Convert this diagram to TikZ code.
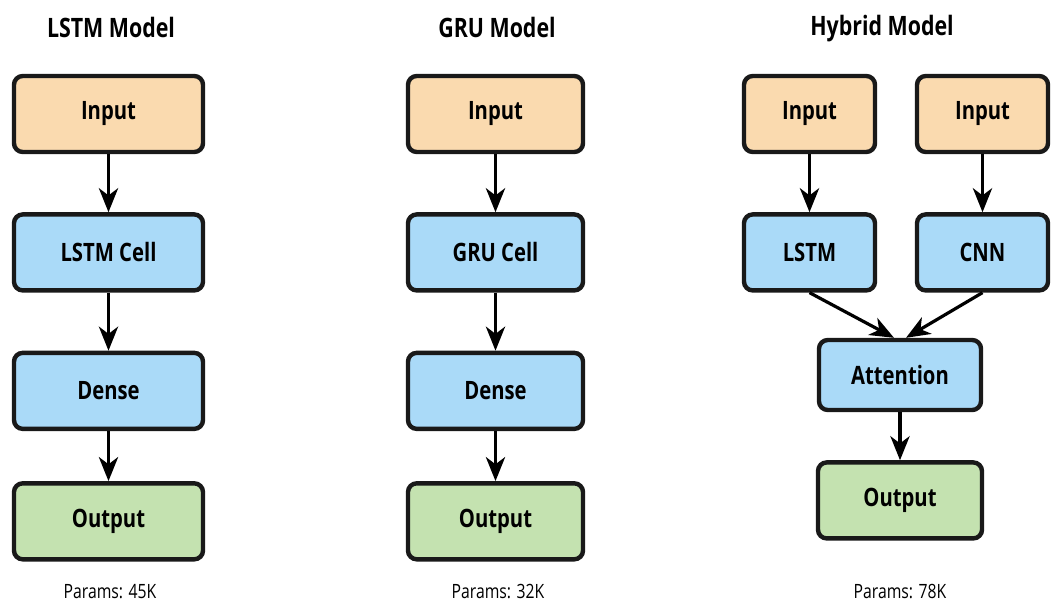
\documentclass[tikz,border=0pt]{standalone}
\usepackage{fontspec}
\setmainfont{Open Sans}[FakeStretch=0.8]
\usetikzlibrary{arrows.meta,positioning}

\definecolor{inpcol}{HTML}{FADAAF}
\definecolor{cellcol}{HTML}{AADAF8}
\definecolor{outcol}{HTML}{C4E2B0}

\begin{document}
\begin{tikzpicture}[x=0.025cm,y=-0.025cm,node distance=1.45cm,
	box/.style={draw=black!90,line width=1.1mm,rounded corners=2.2mm,minimum height=1.9cm,font=\fontsize{18}{22}\selectfont\bfseries},
	inbox/.style={box,fill=inpcol},
	cellbox/.style={box,fill=cellcol},
	outbox/.style={box,fill=outcol},
	heading/.style={font=\fontsize{19}{22}\selectfont\bfseries},
	note/.style={font=\fontsize{14}{17}\selectfont},
	arr/.style={-{Stealth[length=6mm,width=4.8mm,inset=1.8mm]},line width=0.8mm}]
\useasboundingbox (0,0) rectangle (1051,604);

% LSTM
\node [heading] (lt) at (111,27) {LSTM Model};
\node [inbox,minimum width=4.725cm] (li) at (108.5,114) {Input};
\node [cellbox,minimum width=4.725cm,below=of li] (lc) {LSTM Cell};
\node [cellbox,minimum width=4.725cm,below=of lc] (ld) {Dense};
\node [outbox,minimum width=4.725cm,below=1.25cm of ld] (lo) {Output};
\node [note] (lp) at (110,592) {Params: 45K};
\draw [arr] (li) -- (lc);
\draw [arr] (lc) -- (ld);
\draw [arr] (ld) -- (lo);

% GRU
\node [heading] (gt) at (497,27) {GRU Model};
\node [inbox,minimum width=4.375cm] (gi) at (495.5,114) {Input};
\node [cellbox,minimum width=4.375cm,below=of gi] (gc) {GRU Cell};
\node [cellbox,minimum width=4.375cm,below=of gc] (gd) {Dense};
\node [outbox,minimum width=4.375cm,below=1.25cm of gd] (go) {Output};
\node [note] (gp) at (498,592) {Params: 32K};
\draw [arr] (gi) -- (gc);
\draw [arr] (gc) -- (gd);
\draw [arr] (gd) -- (go);

% Hybrid
\node [heading] (ht) at (882,29) {Hybrid Model};
\node [inbox,minimum width=3.275cm] (hi) at (809.5,114) {Input};
\node [inbox,minimum width=3.275cm] (hj) at (982.5,114) {Input};
\node [cellbox,minimum width=3.275cm,below=of hi] (hl) {LSTM};
\node [cellbox,minimum width=3.275cm,below=of hj] (hc) {CNN};
\node [cellbox,minimum width=4.05cm,minimum height=1.75cm] (ha) at (900,375) {Attention};
\node [outbox,minimum width=4.1cm,below=1.2cm of ha] (ho) {Output};
\node [note] (hp) at (900,592) {Params: 78K};
\draw [arr] (hi) -- (hl);
\draw [arr] (hj) -- (hc);
\draw [arr] (hl.south) -- ([xshift=-1.5mm]ha.north);
\draw [arr] (hc.south) -- ([xshift=1.5mm]ha.north);
\draw [arr] (ha) -- (ho);
\end{tikzpicture}
\end{document}
